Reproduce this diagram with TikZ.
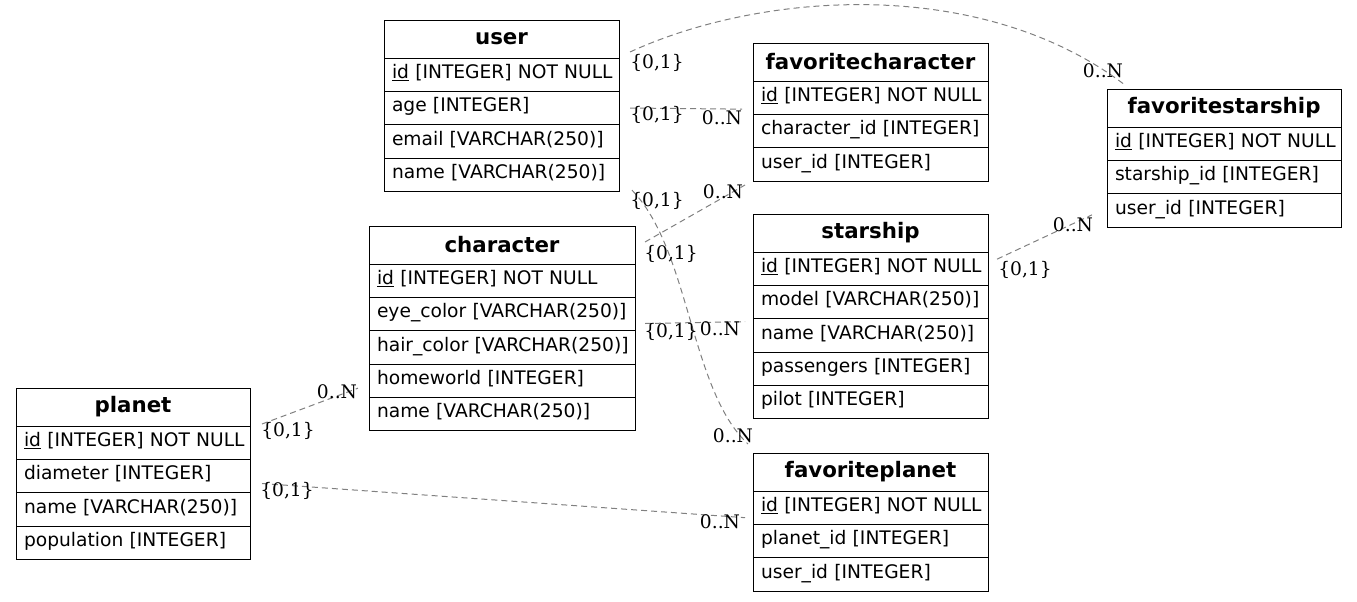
\documentclass[tikz,border=0pt]{standalone}
\usepackage{fontspec}
\usetikzlibrary{positioning,calc}
\newfontfamily\tblfont{DejaVu Sans}
\newfontfamily\cardfont{DejaVu Serif}

\tikzset{
  tblhead/.style={draw, line width=0.75pt, outer sep=0pt, inner xsep=6pt, text width=#1,
    align=center, minimum height=28.5pt, anchor=north west,
    font=\tblfont\bfseries\fontsize{16}{18}\selectfont},
  tblrow/.style={draw, line width=0.75pt, outer sep=0pt, inner xsep=6pt, text width=#1,
    text height=10.6pt, text depth=4.8pt,
    align=left, minimum height=25pt, font=\tblfont\fontsize{14}{16}\selectfont},
  rel/.style={draw=gray, line width=0.75pt, dash pattern=on 4.5pt off 3pt},
  card/.style={inner sep=0pt, font=\cardfont\fontsize{14}{16}\selectfont}
}

\begin{document}
\begin{tikzpicture}[x=0.75pt, y=-0.75pt]
\useasboundingbox (0,0) rectangle (1357,601);

% user
\node[tblhead=164.25pt, alias=user-0] (user) at (384,20) {user};
\foreach \t [count=\i, remember=\i as \j (initially 0)] in {\underline{id} [INTEGER] NOT NULL,
        age [INTEGER], email [VARCHAR(250)], name [VARCHAR(250)]}{
    \node[tblrow=164.25pt, below=0pt of user-\j] (user-\i) {\mbox{\t}};
}

% favoritecharacter
\node[tblhead=164.25pt, alias=favoritecharacter-0] (favoritecharacter) at (753,43) {favoritecharacter};
\foreach \t [count=\i, remember=\i as \j (initially 0)] in {\underline{id} [INTEGER] NOT NULL,
        character\_id [INTEGER], user\_id [INTEGER]}{
    \node[tblrow=164.25pt, below=0pt of favoritecharacter-\j] (favoritecharacter-\i) {\mbox{\t}};
}

% favoritestarship
\node[tblhead=163.5pt, alias=favoritestarship-0] (favoritestarship) at (1107,89) {favoritestarship};
\foreach \t [count=\i, remember=\i as \j (initially 0)] in {\underline{id} [INTEGER] NOT NULL,
        starship\_id [INTEGER], user\_id [INTEGER]}{
    \node[tblrow=163.5pt, below=0pt of favoritestarship-\j] (favoritestarship-\i) {\mbox{\t}};
}

% character
\node[tblhead=187.5pt, alias=character-0] (character) at (369,226) {character};
\foreach \t [count=\i, remember=\i as \j (initially 0)] in {\underline{id} [INTEGER] NOT NULL,
        eye\_color [VARCHAR(250)], hair\_color [VARCHAR(250)], homeworld [INTEGER], name [VARCHAR(250)]}{
    \node[tblrow=187.5pt, below=0pt of character-\j] (character-\i) {\mbox{\t}};
}

% starship
\node[tblhead=164.25pt, alias=starship-0] (starship) at (753,214) {starship};
\foreach \t [count=\i, remember=\i as \j (initially 0)] in {\underline{id} [INTEGER] NOT NULL,
        model [VARCHAR(250)], name [VARCHAR(250)], passengers [INTEGER], pilot [INTEGER]}{
    \node[tblrow=164.25pt, below=0pt of starship-\j] (starship-\i) {\mbox{\t}};
}

% planet
\node[tblhead=163.5pt, alias=planet-0] (planet) at (16,388) {planet};
\foreach \t [count=\i, remember=\i as \j (initially 0)] in {\underline{id} [INTEGER] NOT NULL,
        diameter [INTEGER], name [VARCHAR(250)], population [INTEGER]}{
    \node[tblrow=163.5pt, below=0pt of planet-\j] (planet-\i) {\mbox{\t}};
}

% favoriteplanet
\node[tblhead=164.25pt, alias=favoriteplanet-0] (favoriteplanet) at (753,453) {favoriteplanet};
\foreach \t [count=\i, remember=\i as \j (initially 0)] in {\underline{id} [INTEGER] NOT NULL,
        planet\_id [INTEGER], user\_id [INTEGER]}{
    \node[tblrow=164.25pt, below=0pt of favoriteplanet-\j] (favoriteplanet-\i) {\mbox{\t}};
}

% relations
\draw[rel] ($(user.east)+(11,13)$) .. controls +(130,-60) and +(-145,-110) .. ($(favoritestarship.north west)+(18,-4)$);
\draw[rel] ($(user-2.east)+(11,0)$) -- ($(favoritecharacter-1.west)+(-11,11.5)$);
\draw[rel] ($(user-4.east)+(13,15.5)$) .. controls +(58,60) and +(-58,-54) .. ($(favoriteplanet.north west)+(-5,-9)$);
\draw[rel] ($(character.east)+(10,-3)$) -- ($(favoritecharacter-3.south west)+(-8,4)$);
\draw[rel] ($(character-2.east)+(10,9.5)$) -- ($(starship-2.south west)+(-8,3)$);
\draw[rel] ($(starship-1.east)+(9,-9.5)$) -- ($(favoritestarship-3.west)+(-15,4.5)$);
\draw[rel] ($(planet-1.north east)+(12,-2)$) -- ($(character-4.west)+(-11,7.5)$);
\draw[rel] ($(planet-2.east)+(12,7.5)$) -- ($(favoriteplanet-1.west)+(-8,10)$);

% cardinalities
\node[card] (us-fs) at (657,63) {\{0,1\}};
\node[card] (fs-us) at (1103,71) {0..N};
\node[card] (us-fc) at (657,115) {\{0,1\}};
\node[card] (fc-us) at (722,118) {0..N};
\node[card] (us-fp) at (657,201) {\{0,1\}};
\node[card] (fp-us) at (733,436) {0..N};
\node[card] (ch-fc) at (671,254) {\{0,1\}};
\node[card] (fc-ch) at (723,192) {0..N};
\node[card] (ch-st) at (671,332) {\{0,1\}};
\node[card] (st-ch) at (720,329) {0..N};
\node[card] (st-fs) at (1025,270) {\{0,1\}};
\node[card] (fs-st) at (1073,225) {0..N};
\node[card] (pl-ch) at (288,431) {\{0,1\}};
\node[card] (ch-pl) at (337,392) {0..N};
\node[card] (pl-fp) at (287,491) {\{0,1\}};
\node[card] (fp-pl) at (720,522) {0..N};

\end{tikzpicture}
\end{document}
